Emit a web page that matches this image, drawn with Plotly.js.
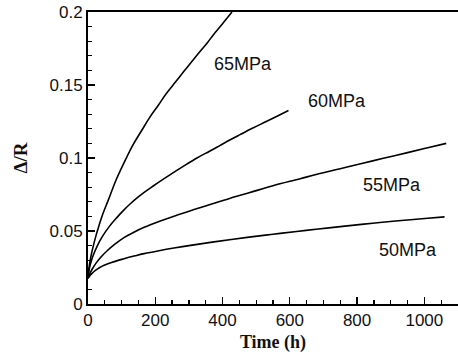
<!DOCTYPE html>
<html>
<head>
<meta charset="utf-8">
<script src="https://cdn.plot.ly/plotly-3.0.1.min.js"></script>
<style>html,body{margin:0;padding:0;background:#fff;}#chart{width:458px;height:359px;}</style>
</head>
<body>
<div id="chart"></div>
<script>
var t65 = [0, 3, 9, 16, 24, 33, 43, 60, 85, 116, 135, 160, 184, 210, 234, 260, 284, 310, 333, 355, 373, 400, 428];
var v65 = [0.018, 0.025, 0.033, 0.040, 0.047, 0.054, 0.061, 0.071, 0.0858, 0.101, 0.1095, 0.119, 0.128, 0.1365, 0.1445, 0.152, 0.159, 0.1665, 0.173, 0.179, 0.1845, 0.192, 0.200];

var t60 = [0, 3, 8, 15, 28, 42, 63, 85, 107, 125, 145, 167, 195, 224, 264, 295, 324, 360, 392, 423, 452, 490, 530, 565, 596];
var v60 = [0.018, 0.023, 0.028, 0.033, 0.040, 0.046, 0.053, 0.059, 0.0645, 0.0685, 0.0725, 0.0765, 0.081, 0.0855, 0.0915, 0.096, 0.100, 0.1045, 0.1085, 0.1125, 0.116, 0.1205, 0.125, 0.129, 0.1325];

var t55 = [0, 3, 8, 14, 24, 40, 57, 80, 107, 135, 167, 211, 260, 320, 370, 423, 479, 550, 631, 678, 750, 820, 875, 950, 1010, 1065];
var v55 = [0.018, 0.0195, 0.022, 0.0245, 0.028, 0.0325, 0.0365, 0.041, 0.0455, 0.049, 0.0525, 0.0565, 0.0605, 0.065, 0.0687, 0.0725, 0.0762, 0.081, 0.0858, 0.0887, 0.0927, 0.0966, 0.0996, 0.1037, 0.107, 0.110];

var t50 = [0, 3, 6, 12, 22, 35, 48, 70, 107, 140, 167, 211, 260, 300, 380, 479, 550, 620, 678, 750, 820, 875, 950, 1010, 1060];
var v50 = [0.0175, 0.0185, 0.0195, 0.021, 0.023, 0.025, 0.0265, 0.0285, 0.031, 0.033, 0.0345, 0.0365, 0.0385, 0.040, 0.0427, 0.0458, 0.0478, 0.0497, 0.0512, 0.053, 0.0547, 0.056, 0.0575, 0.0587, 0.0597];

var xTickVals = [0, 200, 400, 600, 800, 1000];
var xTickText = ['0', '200', '400', '600', '800', '1000'];
var yTickVals = [0, 0.05, 0.1, 0.15, 0.2];
var yTickText = ['0', '0.05', '0.1', '0.15', '0.2'];

var labels = ["65MPa", "60MPa", "55MPa", "50MPa"];
var labelX = [461, 741, 905, 952];
var labelY = [0.1647, 0.139, 0.0815, 0.037];

var series = [[t65, v65], [t60, v60], [t55, v55], [t50, v50]];
var traces = series.map(function (s, i) {
  return {
    x: s[0], y: s[1], type: 'scatter', mode: 'lines', name: labels[i],
    line: {color: '#000', width: 1.6, shape: 'spline', smoothing: 1},
    showlegend: false, hoverinfo: 'skip'
  };
});

var annotations = labels.map(function (l, i) {
  return {x: labelX[i], y: labelY[i], xref: 'x', yref: 'y', text: l, showarrow: false,
    font: {family: 'Liberation Sans, Arial, sans-serif', size: 18, color: '#111'}};
});

var layout = {
  width: 458, height: 359,
  margin: {l: 88, r: 0, t: 12, b: 55},
  paper_bgcolor: '#fff', plot_bgcolor: '#fff',
  font: {family: 'Liberation Sans, Arial, sans-serif', size: 17, color: '#111'},
  xaxis: {
    range: [0, 1100], showgrid: false, zeroline: false,
    showline: true, linecolor: '#000', linewidth: 2, mirror: true,
    ticks: 'inside', ticklen: 7, tickwidth: 1.2, tickcolor: '#000',
    tickmode: 'array', tickvals: xTickVals, ticktext: xTickText,
    minor: {ticks: 'inside', ticklen: 4, tickwidth: 1.2, tickcolor: '#000', tick0: 0, dtick: 50, showgrid: false},
    tickfont: {size: 17},
    title: {text: '<b>Time (h)</b>', font: {family: 'Liberation Serif, Times New Roman, serif', size: 18, color: '#111'}, standoff: 6}
  },
  yaxis: {
    range: [0, 0.2], showgrid: false, zeroline: false,
    showline: true, linecolor: '#000', linewidth: 2, mirror: false,
    ticks: 'inside', ticklen: 7, tickwidth: 1.2, tickcolor: '#000',
    tickmode: 'array', tickvals: yTickVals, ticktext: yTickText,
    minor: {ticks: 'inside', ticklen: 4, tickwidth: 1.2, tickcolor: '#000', tick0: 0, dtick: 0.01, showgrid: false},
    tickfont: {size: 17},
    title: {text: '<b>Δ/R</b>', font: {family: 'Liberation Serif, Times New Roman, serif', size: 19, color: '#111'}, standoff: 17}
  },
  annotations: annotations
};

Plotly.newPlot('chart', traces, layout, {staticPlot: true, displayModeBar: false});
</script>
</body>
</html>
